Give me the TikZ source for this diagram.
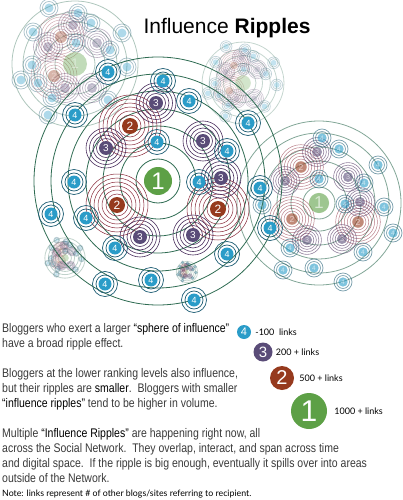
\documentclass[tikz,border=0pt]{standalone}
\usepackage{fontspec}
\setmainfont{Liberation Sans}
\newfontfamily\bodyfont[FakeStretch=0.84]{Liberation Sans}
\newfontfamily\keyfont{Lato}
\usetikzlibrary{positioning}

\definecolor{fourblue}{HTML}{2A9CC8}
\definecolor{fourring}{HTML}{1F5E74}
\definecolor{threefill}{HTML}{5A4C78}
\definecolor{threering}{HTML}{4B2F5E}
\definecolor{twofill}{HTML}{963A1E}
\definecolor{tworing}{HTML}{8A2C3C}
\definecolor{onefill}{HTML}{5DA046}
\definecolor{onering}{HTML}{2E6B52}
\definecolor{bodygray}{HTML}{3A3A3A}

\newcommand{\hl}[1]{\textcolor{black}{#1}}
\newcommand{\rsize}{1}
% rings round one blogger
\newcommand{\fourrings}[2]{\foreach \r in {9,12.5}{\draw[ringfour] (#1,#2) circle[radius=\rsize*\r pt];}}
\newcommand{\threerings}[2]{\foreach \r in {9.5,13,16.5,20}{\draw[ringthree] (#1,#2) circle[radius=\rsize*\r pt];}}
\newcommand{\tworings}[2]{\foreach \r in {11,15,19,23,27,31}{\draw[ringtwo] (#1,#2) circle[radius=\rsize*\r pt];}}

% bloggers of the big network
\newcommand{\mainfours}{108/72, 163/81, 189/101, 75/115, 248/123, 157/142, 227/151, 74/182, 199/182, 260/188, 51/214, 86/218, 270/228, 115/248, 227/254, 105/284, 151/280, 194/300}
\newcommand{\mainthrees}{156/103, 203/141, 106/148, 221/178, 140/237, 193/235}
\newcommand{\maintwos}{130/126, 117/205, 218/209}
% bloggers of the network on the right
\newcommand{\rightfours}{322/138, 339/149, 378/165, 319/179, 364/183, 345/204, 384/207, 393/233, 290/248, 363/252, 283/270, 314/268, 343/282, 262/205}
\newcommand{\rightthrees}{317/152, 285/181, 348/177, 360/202, 307/240, 342/239}
\newcommand{\righttwos}{301/167, 292/219, 358/222}
% bloggers of the pale network, top left
\newcommand{\palefours}{49/8, 78/13, 91/23, 33/32, 122/33, 76/43, 110/50, 32/65, 127/67, 21/80, 38/83, 52/98, 108/100, 48/115}
\newcommand{\palethrees}{73/25, 48/47, 97/43, 65/88, 92/88}
\newcommand{\paletwos}{61/37, 54/76}

\newcommand{\palecluster}{%
  \foreach \r in {20,30,42,52,63} \draw[ringone] (75,64) circle[radius=\r pt];
  \foreach \x/\y in \paletwos {\foreach \r in {8,11,14,17,20,23} \draw[ringtwo] (\x,\y) circle[radius=\r pt];}
  \foreach \x/\y in \palethrees {\foreach \r in {7,9.5,12,14.5} \draw[ringthree] (\x,\y) circle[radius=\r pt];}
  \foreach \x/\y in \palefours {\foreach \r in {6.5,9} \draw[ringfour] (\x,\y) circle[radius=\r pt];}
  \fill[onefill] (75,64) circle[radius=12pt];
  \foreach \x/\y in \paletwos \fill[twofill] (\x,\y) circle[radius=6pt];
  \foreach \x/\y in \palethrees \fill[threefill] (\x,\y) circle[radius=5pt];
  \foreach \x/\y in \palefours \fill[fourblue] (\x,\y) circle[radius=4.5pt];
}

\begin{document}
\begin{tikzpicture}[x=1pt, y=-1pt,
  ringfour/.style={draw=fourring, line width=0.7pt},
  ringthree/.style={draw=threering, line width=0.6pt},
  ringtwo/.style={draw=tworing, line width=0.5pt},
  ringone/.style={draw=onering, line width=0.8pt},
  dotfour/.style={circle, fill=fourblue, text=white, inner sep=0pt, minimum size=13pt, font=\fontsize{9}{9}\selectfont},
  dotthree/.style={circle, fill=threefill, text=white, inner sep=0pt, minimum size=14pt, font=\fontsize{10}{10}\selectfont},
  dottwo/.style={circle, fill=twofill, text=white, inner sep=0pt, minimum size=16pt, font=\fontsize{12}{12}\selectfont},
  dotone/.style={circle, fill=onefill, text=white, inner sep=0pt, minimum size=28pt, font=\fontsize{24}{24}\selectfont},
  body/.style={anchor=north west, inner sep=0pt, align=left, text=bodygray, font=\bodyfont\fontsize{12.5}{15}\selectfont},
  keytext/.style={inner sep=0pt, font=\keyfont\fontsize{9}{10}\selectfont}]
\useasboundingbox (0,0) rectangle (403,500);

% pale networks in the back
\begin{scope}[opacity=0.38]
  \palecluster
  \node[text=white, font=\fontsize{14}{14}\selectfont] (paleone) at (75,64) {1};
  \foreach \x/\y [count=\i] in \paletwos \node[text=white, font=\fontsize{9}{9}\selectfont] (paletwo\i) at (\x,\y) {2};
  \foreach \x/\y [count=\i] in \palethrees \node[text=white, font=\fontsize{7}{7}\selectfont] (palethree\i) at (\x,\y) {3};
\end{scope}
\begin{scope}[opacity=0.28, shift={(243,83)}, scale=0.65, shift={(-75,-64)}]
  \palecluster
\end{scope}
\begin{scope}[opacity=0.3, shift={(65,258)}, scale=0.32, shift={(-75,-64)}]
  \palecluster
\end{scope}
\begin{scope}[opacity=0.25, shift={(187,272)}, scale=0.17, shift={(-75,-64)}]
  \palecluster
\end{scope}

% network on the right
\begin{scope}[opacity=0.6]
  \renewcommand{\rsize}{0.72}
  \foreach \r in {16,28,42,56,70,82} \draw[ringone] (319,203) circle[radius=\r pt];
  \foreach \x/\y in \righttwos {\tworings{\x}{\y}}
  \foreach \x/\y in \rightthrees {\threerings{\x}{\y}}
  \foreach \x/\y in \rightfours {\fourrings{\x}{\y}}
  \node[dotone, scale=0.72] (rightone) at (319,203) {1};
  \foreach \x/\y [count=\i] in \righttwos \node[dottwo, scale=0.72] (righttwo\i) at (\x,\y) {2};
  \foreach \x/\y [count=\i] in \rightthrees \node[dotthree, scale=0.72] (rightthree\i) at (\x,\y) {3};
  \foreach \x/\y [count=\i] in \rightfours \node[dotfour, scale=0.72] (rightfour\i) at (\x,\y) {4};
\end{scope}

% the big network
\foreach \r in {22,38,55,72,90,107,124} \draw[ringone] (158,181) circle[radius=\r pt];
\foreach \x/\y in \maintwos {\tworings{\x}{\y}}
\foreach \x/\y in \mainthrees {\threerings{\x}{\y}}
\foreach \x/\y in \mainfours {\fourrings{\x}{\y}}
\node[dotone] (mainone) at (158,181) {1};
\foreach \x/\y [count=\i] in \maintwos \node[dottwo] (maintwo\i) at (\x,\y) {2};
\foreach \x/\y [count=\i] in \mainthrees \node[dotthree] (mainthree\i) at (\x,\y) {3};
\foreach \x/\y [count=\i] in \mainfours \node[dotfour] (mainfour\i) at (\x,\y) {4};

% title
\node[anchor=base, inner sep=0pt, font=\fontsize{21}{21}\selectfont] (title) at (227,33.5) {Influence \textbf{Ripples}};

% text
\node[body] (sphere) at (2,323) {Bloggers who exert a larger \hl{“sphere of influence”}\\have a broad ripple effect.};
\node[body] (lower) at (2,368.5) {Bloggers at the lower ranking levels also influence,\\but their ripples are \hl{smaller}.\ \ Bloggers with smaller\\\hl{“influence ripples”} tend to be higher in volume.};
\node[body] (multiple) at (2,428.5) {Multiple \hl{“Influence Ripples”} are happening right now, all\\across the Social Network.\ \ They overlap, interact, and span across time\\and digital space.\ \ If the ripple is big enough, eventually it spills over into areas\\outside of the Network.};
\node[anchor=base west, inner sep=0pt, font=\keyfont\fontsize{8.8}{9}\selectfont] (note) at (2,496) {Note: links represent \# of other blogs/sites referring to recipient.};

% key
\node[dotfour, minimum size=14pt, font=\fontsize{11}{11}\selectfont] (keyfour) at (244,332) {4};
\node[keytext, right=4pt of keyfour] (keyfourtext) {-100\ \ links};
\node[dotthree, minimum size=19pt, font=\fontsize{15}{15}\selectfont] (keythree) at (263,352) {3};
\node[keytext, right=3pt of keythree] (keythreetext) {200 + links};
\node[dottwo, minimum size=24pt, font=\fontsize{20}{20}\selectfont] (keytwo) at (282,378) {2};
\node[keytext, right=5pt of keytwo] (keytwotext) {500 + links};
\node[dotone, minimum size=36pt, font=\fontsize{30}{30}\selectfont] (keyone) at (309,411) {1};
\node[keytext, right=7pt of keyone] (keyonetext) {1000 + links};
\end{tikzpicture}
\end{document}
